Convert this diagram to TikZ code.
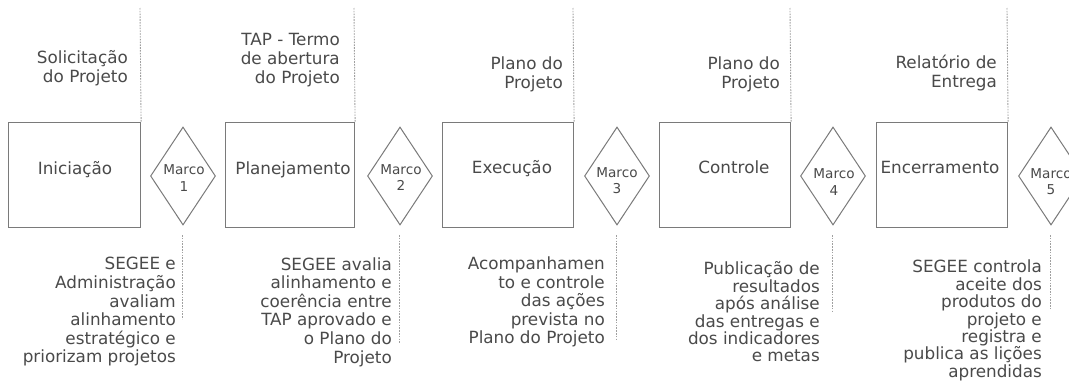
\documentclass[tikz,border=0pt]{standalone}
\usepackage{fontspec}
\setmainfont{DejaVu Sans}
\usetikzlibrary{shapes.geometric}
\definecolor{txt}{HTML}{4A4A4A}
\definecolor{edgegray}{HTML}{7A7A7A}
\definecolor{guidegray}{HTML}{A0A0A0}
\begin{document}
\begin{tikzpicture}[x=1pt,y=-1pt,
  phase/.style={draw=edgegray,line width=1.1pt,minimum width=132pt,minimum height=105pt,inner sep=0pt,anchor=north west},
  milestone/.style={draw=edgegray,line width=1pt,shape=diamond,minimum width=65pt,minimum height=98pt,inner sep=0pt},
  phaselabel/.style={text=txt,inner sep=0pt,font=\fontsize{16.8}{18.7}\selectfont},
  marcolabel/.style={text=txt,inner sep=0pt,align=center,font=\fontsize{13.6}{16.5}\selectfont},
  toptext/.style={text=txt,inner sep=0pt,anchor=east,align=right,font=\fontsize{16.8}{19}\selectfont},
  bottext/.style={text=txt,inner sep=0pt,anchor=east,align=right,font=\fontsize{16.8}{18.6}\selectfont},
  bottight/.style={text=txt,inner sep=0pt,anchor=east,align=right,font=\fontsize{16.8}{17.4}\selectfont},
  guide/.style={draw=guidegray,line width=0.9pt,dash pattern=on 1.6pt off 1.2pt}]
\useasboundingbox (0,0) rectangle (1069,383);
\fill[white] (0,0) rectangle (1069,383);

% phase boxes
\node[phase] (b1) at (8,122) {};
\node[phase,minimum width=129pt] (b2) at (225,122) {};
\node[phase,minimum width=131pt] (b3) at (442,122) {};
\node[phase,minimum width=131pt] (b4) at (659,122) {};
\node[phase,minimum width=131pt] (b5) at (876,122) {};

\node[phaselabel] (l1) at (75,170) {Iniciação};
\node[phaselabel] (l2) at (293,170) {Planejamento};
\node[phaselabel] (l3) at (512,169) {Execução};
\node[phaselabel] (l4) at (734,167) {Controle};
\node[phaselabel] (l5) at (940,167) {Encerramento};

% milestones
\node[milestone] (d1) at (183,176) {};
\node[milestone] (d2) at (400,176) {};
\node[milestone] (d3) at (617,176) {};
\node[milestone] (d4) at (833,176) {};
\node[milestone] (d5) at (1051,176) {};

\node[marcolabel] (m1) at (184,178) {Marco\\1};
\node[marcolabel] (m2) at (401,177.5) {Marco\\2};
\node[marcolabel] (m3) at (617,180.5) {Marco\\3};
\node[marcolabel] (m4) at (834,182) {Marco\\4};
\node[marcolabel] (m5) at (1051,181.5) {Marco\\5};

% top guides
\coordinate (t1) at (140,8);
\coordinate (t2) at (354,8);
\coordinate (t3) at (573,8);
\coordinate (t4) at (790,8);
\coordinate (t5) at (1007,8);
\draw[guide] (t1) -- (b1.north east);
\draw[guide] (t2) -- (b2.north east);
\draw[guide] (t3) -- (b3.north east);
\draw[guide] (t4) -- (b4.north east);
\draw[guide] (t5) -- (b5.north east);

% bottom guides
\coordinate (u1a) at (182,235); \coordinate (u1b) at (182,319);
\coordinate (u2a) at (399,235); \coordinate (u2b) at (399,343);
\coordinate (u3a) at (616,235); \coordinate (u3b) at (616,340);
\coordinate (u4a) at (832,235); \coordinate (u4b) at (832,313);
\coordinate (u5a) at (1050,235); \coordinate (u5b) at (1050,308);
\draw[guide] (u1a) -- (u1b);
\draw[guide] (u2a) -- (u2b);
\draw[guide] (u3a) -- (u3b);
\draw[guide] (u4a) -- (u4b);
\draw[guide] (u5a) -- (u5b);

% top texts
\node[toptext] (s1) at (128,68) {Solicitação\\do Projeto};
\node[toptext] (s2) at (340,60.5) {TAP - Termo\\de abertura\\do Projeto};
\node[toptext] (s3) at (563,74.5) {Plano do\\Projeto};
\node[toptext] (s4) at (780,74.5) {Plano do\\Projeto};
\node[toptext] (s5) at (997,73.5) {Relatório de\\Entrega};

% bottom texts
\node[bottext] (n1) at (176,312) {SEGEE e\\Administração\\avaliam\\alinhamento\\estratégico e\\priorizam projetos};
\node[bottext] (n2) at (392,312) {SEGEE avalia\\alinhamento e\\coerência entre\\TAP aprovado e\\o Plano do\\Projeto};
\node[bottext] (n3) at (605,302) {Acompanhamen\\to e controle\\das ações\\prevista no\\Plano do Projeto};
\node[bottight] (n4) at (820,312) {Publicação de\\resultados\\após análise\\das entregas e\\dos indicadores\\e metas};
\node[bottight] (n5) at (1042,320.5) {SEGEE controla\\aceite dos\\produtos do\\projeto e\\registra e\\publica as lições\\aprendidas};
\end{tikzpicture}
\end{document}
